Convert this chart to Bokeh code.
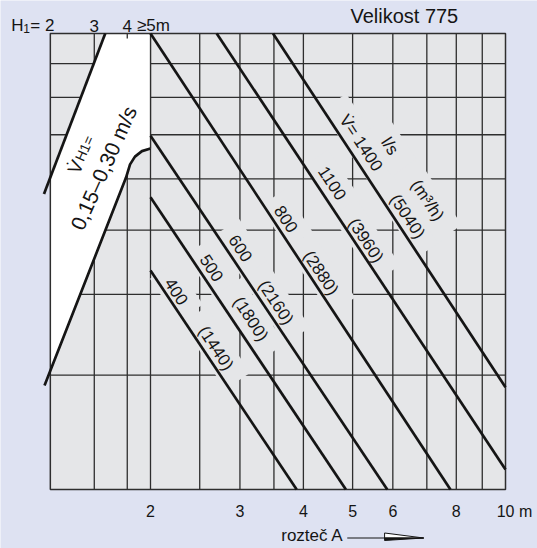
import math
from bokeh.plotting import figure
from bokeh.models import Range1d
from bokeh.core.properties import value
from bokeh.embed import file_html
from bokeh.resources import INLINE

# ---------------- data (x: spacing A in m, log; y: nomogram height 0..100) ----------------
a_ticks = [2, 3, 4, 5, 6, 8, 10]
a_tick_labels = ["2", "3", "4", "5", "6", "8", "10 m"]
a_grid = [1.55, 1.8, 2, 2.5, 3, 3.5, 4, 5, 6, 7, 8, 9]
y_grid = [93.4, 86.0, 77.8, 68.1, 56.9, 42.8, 25.1]
a_box = [1.27, 10.0]
y_box = [0.0, 100.0]

h1_values = ["2", "3", "4", "≥5"]
h1_a = [1.27, 1.55, 1.8, 2.0]

flow_ls = [400, 500, 600, 800, 1100, 1400]
flow_m3h = [1440, 1800, 2160, 2880, 3960, 5040]
line_a0 = [2.0, 2.0, 2.0, 2.0, 2.70, 3.485]
line_y0 = [48.0, 64.1, 77.6, 100.0, 100.0, 100.0]
line_a1 = [3.88, 4.85, 5.85, 7.79, 10.0, 10.0]
line_y1 = [0.0, 0.0, 0.0, 0.0, 4.4, 22.4]

band_left_a = [1.629, 1.234]
band_left_y = [100.0, 64.8]
band_right_a = [2.0, 1.924, 1.864, 1.823, 1.790, 1.237]
band_right_y = [74.8, 74.2, 73.0, 71.3, 68.4, 22.8]

# label anchor positions (layout)
flow_lab_a = [2.25, 2.64, 3.01, 3.70, 4.56, 5.19]
flow_lab_y = [43.4, 48.6, 52.9, 59.3, 67.2, 76.0]
m3h_lab_a = [2.69, 3.15, 3.53, 4.33, 5.31, 6.41]
m3h_lab_y = [31.0, 37.4, 41.0, 47.5, 54.6, 59.9]
unit_texts = ["l/s", "(m³/h)"]
unit_a = [5.92, 7.02]
unit_y = [75.3, 63.4]

# ---------------- style ----------------
FONT = value("Liberation Sans")
BG = "#dee2f2"
BOX = "#e5e6e8"
INK = "#151515"
GRID = "#2e2e2e"
DIAG = -0.986
BAND_ANG = 1.15

p = figure(width=537, height=548, x_axis_type="log",
           x_range=Range1d(1.0132, 11.561), y_range=Range1d(-12.94, 107.24),
           output_backend="svg", toolbar_location=None, min_border=0,
           x_axis_location=None, y_axis_location=None, title=None)
p.background_fill_color = BG
p.border_fill_color = BG
p.outline_line_color = None
p.grid.visible = False

# box fill
p.quad(left=[a_box[0]], right=[a_box[1]], bottom=[y_box[0]], top=[y_box[1]],
       fill_color=BOX, line_color=None)

# grid
p.segment(x0=a_grid, y0=[y_box[0]] * len(a_grid), x1=a_grid, y1=[y_box[1]] * len(a_grid),
          line_color=GRID, line_width=1.3)
p.segment(x0=[a_box[0]] * len(y_grid), y0=y_grid, x1=[a_box[1]] * len(y_grid), y1=y_grid,
          line_color=GRID, line_width=1.3)

# masks behind diagonal labels
flow_texts = [str(v) for v in flow_ls]
flow_texts[-1] = "V̇= " + flow_texts[-1]
m3h_texts = ["(%d)" % v for v in flow_m3h]
all_t = flow_texts + m3h_texts + unit_texts
all_a = flow_lab_a + m3h_lab_a + unit_a
all_y = flow_lab_y + m3h_lab_y + unit_y
FS = 17
mask_w = [0.56 * FS * len(t) + 22 for t in all_t]
p.rect(x=all_a, y=all_y, width=mask_w, height=[30] * len(all_t), angle=DIAG,
       width_units="screen", height_units="screen", fill_color=BOX, line_color=None)


def y_on(a0, y0, a1, y1, a):
    t = (math.log10(a) - math.log10(a0)) / (math.log10(a1) - math.log10(a0))
    return y0 + t * (y1 - y0)


yL = y_on(band_left_a[0], band_left_y[0], band_left_a[1], band_left_y[1], a_box[0])
yR = y_on(band_right_a[-2], band_right_y[-2], band_right_a[-1], band_right_y[-1], a_box[0])
poly_a = [band_left_a[0], band_right_a[0]] + band_right_a[:-1] + [a_box[0], a_box[0]]
poly_y = [y_box[1], y_box[1]] + band_right_y[:-1] + [yR, yL]
p.patch(poly_a, poly_y, fill_color="white", line_color=None)

# box border, band edge on A=2, tick for H1=4
p.quad(left=[a_box[0]], right=[a_box[1]], bottom=[y_box[0]], top=[y_box[1]],
       fill_color=None, line_color=GRID, line_width=1.5)
p.segment(x0=[band_right_a[0]], y0=[band_right_y[0]], x1=[band_right_a[0]], y1=[y_box[1]],
          line_color=GRID, line_width=1.3)
p.segment(x0=[h1_a[2]], y0=[y_box[1]], x1=[h1_a[2]], y1=[98.9], line_color=GRID, line_width=1.3)

# thick lines
p.segment(x0=line_a0, y0=line_y0, x1=line_a1, y1=line_y1, line_color=INK, line_width=2.7)
p.line(band_left_a, band_left_y, line_color=INK, line_width=2.7)
p.line(band_right_a, band_right_y, line_color=INK, line_width=2.7, line_join="round")

# diagonal labels
p.text(x=all_a, y=all_y, text=all_t, angle=DIAG, text_font=FONT, text_font_size="%dpx" % FS,
       text_align="center", text_baseline="middle", text_color=INK)

# band labels: V-dot with subscript H1, then the velocity range
p.text(x=[1.424], y=[70.7], text=["V̇"], angle=BAND_ANG, text_font=FONT,
       text_font_size="19px", text_align="center", text_baseline="middle", text_color=INK)
p.text(x=[1.482], y=[74.8], text=["H1="], angle=BAND_ANG, text_font=FONT,
       text_font_size="14px", text_align="center", text_baseline="middle", text_color=INK)
p.text(x=[1.616], y=[70.5], text=["0,15–0,30 m/s"], angle=BAND_ANG, text_font=FONT,
       text_font_size="21px", text_align="center", text_baseline="middle", text_color=INK)

# H1 labels on top: "H", subscript "1", "= 2", then 3, 4, ≥5m
p.text(x=[h1_a[0]], y=[101.75], text=["H"], x_offset=[-39], text_font=FONT,
       text_font_size="17px", text_align="left", text_baseline="alphabetic", text_color=INK)
p.text(x=[h1_a[0]], y=[101.0], text=["1"], x_offset=[-27], text_font=FONT,
       text_font_size="12px", text_align="left", text_baseline="alphabetic", text_color=INK)
p.text(x=[h1_a[0]], y=[101.75], text=["= " + h1_values[0]], x_offset=[-20], text_font=FONT,
       text_font_size="17px", text_align="left", text_baseline="alphabetic", text_color=INK)
h1_rest = h1_values[1:3] + [h1_values[3] + "m"]
p.text(x=h1_a[1:], y=[101.75] * 3, text=h1_rest, x_offset=[0, 0, 3],
       text_font=FONT, text_font_size="17px", text_align="center",
       text_baseline="alphabetic", text_color=INK)

# bottom tick labels
p.text(x=a_ticks, y=[-4.8] * len(a_ticks), text=a_tick_labels,
       x_offset=[0] * (len(a_ticks) - 1) + [9],
       text_font=FONT, text_font_size="16px", text_align="center",
       text_baseline="middle", text_color=INK)

# axis label with arrow
p.text(x=[4.80], y=[-10.1], text=["rozteč A"], text_font=FONT, text_font_size="17px",
       text_align="right", text_baseline="middle", text_color=INK)
p.line([4.88, 5.78], [-10.64, -10.64], line_color=INK, line_width=1.2)
p.patch([5.78, 6.90, 5.78], [-9.54, -10.64, -10.64], fill_color="white", line_color=INK, line_width=1)
p.patch([5.78, 6.90, 5.78], [-10.64, -10.64, -11.18], fill_color=INK, line_color=INK, line_width=1)

# title at the top edge
p.text(x=[4.95], y=[103.8], text=["Velikost 775"], text_font=FONT, text_font_size="20px",
       text_align="left", text_baseline="alphabetic", text_color=INK)

open("out.html", "w").write(file_html(p, INLINE))
